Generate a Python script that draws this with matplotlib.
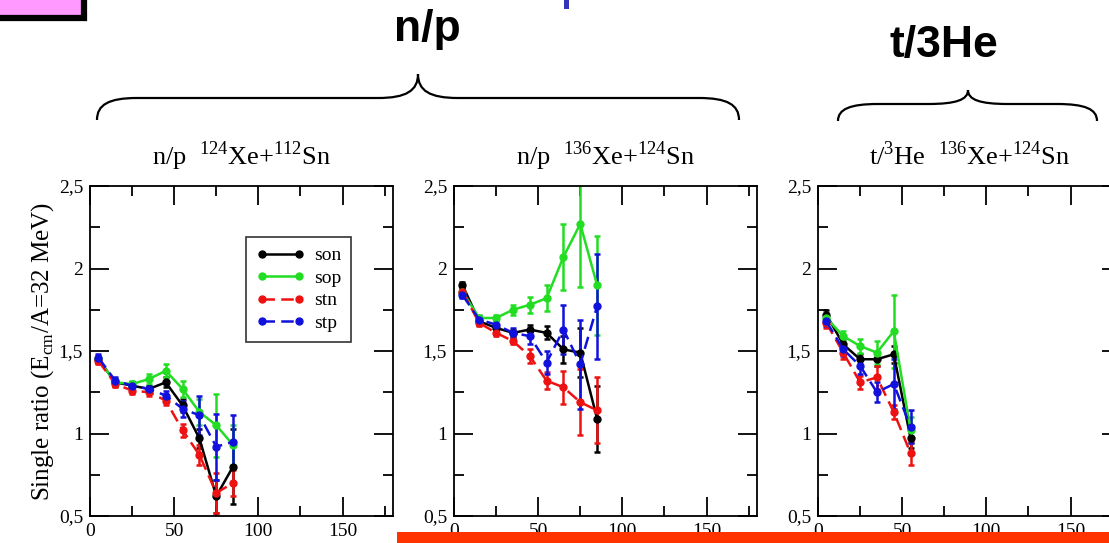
import matplotlib.pyplot as plt
from matplotlib.patches import Rectangle, PathPatch
from matplotlib.path import Path
from matplotlib.ticker import MultipleLocator

plt.rcParams['font.family'] = ['Liberation Serif', 'DejaVu Serif']
plt.rcParams['mathtext.fontset'] = 'custom'
plt.rcParams['mathtext.rm'] = 'Liberation Serif'

# beam energy bins (MeV/A)
energy = [5, 15, 25, 35, 45, 55, 65, 75, 85]
energy_t = [5, 15, 25, 35, 45, 55]
series = ['son', 'sop', 'stn', 'stp']

# n/p 124Xe+112Sn
np124_son = [1.45, 1.31, 1.29, 1.27, 1.31, 1.17, 0.97, 0.62, 0.80]
np124_son_err = [0.02, 0.02, 0.02, 0.02, 0.03, 0.04, 0.06, 0.10, 0.23]
np124_sop = [1.45, 1.31, 1.30, 1.33, 1.38, 1.27, 1.13, 1.05, 0.93]
np124_sop_err = [0.02, 0.02, 0.02, 0.03, 0.04, 0.05, 0.08, 0.19, 0.12]
np124_stn = [1.44, 1.30, 1.26, 1.25, 1.20, 1.02, 0.87, 0.64, 0.70]
np124_stn_err = [0.02, 0.02, 0.02, 0.02, 0.03, 0.04, 0.06, 0.12, 0.08]
np124_stp = [1.46, 1.32, 1.29, 1.27, 1.23, 1.15, 1.11, 0.92, 0.95]
np124_stp_err = [0.02, 0.02, 0.02, 0.02, 0.03, 0.05, 0.12, 0.20, 0.16]

# n/p 136Xe+124Sn
np136_son = [1.90, 1.68, 1.64, 1.61, 1.63, 1.61, 1.51, 1.49, 1.09]
np136_son_err = [0.02, 0.02, 0.02, 0.02, 0.03, 0.04, 0.08, 0.15, 0.20]
np136_sop = [1.86, 1.70, 1.70, 1.75, 1.78, 1.82, 2.07, 2.27, 1.90]
np136_sop_err = [0.02, 0.02, 0.02, 0.03, 0.05, 0.08, 0.20, 0.38, 0.30]
np136_stn = [1.86, 1.67, 1.61, 1.56, 1.47, 1.32, 1.28, 1.19, 1.14]
np136_stn_err = [0.02, 0.02, 0.02, 0.02, 0.04, 0.05, 0.10, 0.20, 0.20]
np136_stp = [1.84, 1.69, 1.66, 1.61, 1.59, 1.43, 1.63, 1.42, 1.77]
np136_stp_err = [0.02, 0.02, 0.03, 0.03, 0.05, 0.07, 0.15, 0.27, 0.32]

# t/3He 136Xe+124Sn
th136_son = [1.72, 1.54, 1.45, 1.45, 1.48, 0.97]
th136_son_err = [0.03, 0.03, 0.03, 0.04, 0.05, 0.06]
th136_sop = [1.70, 1.59, 1.53, 1.49, 1.62, 1.02]
th136_sop_err = [0.03, 0.03, 0.04, 0.07, 0.22, 0.08]
th136_stn = [1.67, 1.49, 1.31, 1.34, 1.13, 0.88]
th136_stn_err = [0.03, 0.04, 0.04, 0.07, 0.04, 0.07]
th136_stp = [1.68, 1.51, 1.41, 1.25, 1.30, 1.04]
th136_stp_err = [0.03, 0.04, 0.05, 0.06, 0.15, 0.10]

x_ticks = [0, 50, 100, 150]
x_labels = ['0', '50', '100', '150']
y_ticks = [0.5, 1.0, 1.5, 2.0, 2.5]
y_labels = ['0,5', '1', '1,5', '2', '2,5']

titles = [r'n/p  $^\mathregular{124}$Xe+$^\mathregular{112}$Sn',
          r'n/p  $^\mathregular{136}$Xe+$^\mathregular{124}$Sn',
          r't/$^\mathregular{3}$He  $^\mathregular{136}$Xe+$^\mathregular{124}$Sn']

colors = {'son': 'black', 'sop': '#22dd22', 'stn': '#ee1111', 'stp': '#1111dd'}
dashes = {'son': '-', 'sop': '-', 'stn': (0, (5, 2.5)), 'stp': (0, (5, 2.5))}

panels = [
    (energy, [np124_son, np124_sop, np124_stn, np124_stp],
     [np124_son_err, np124_sop_err, np124_stn_err, np124_stp_err]),
    (energy, [np136_son, np136_sop, np136_stn, np136_stp],
     [np136_son_err, np136_sop_err, np136_stn_err, np136_stp_err]),
    (energy_t, [th136_son, th136_sop, th136_stn, th136_stp],
     [th136_son_err, th136_sop_err, th136_stn_err, th136_stp_err]),
]

W, H = 1109, 543
fig = plt.figure(figsize=(W / 100, H / 100), dpi=100)

lefts = [90, 454, 818]
aw, top, bottom = 303, 186, 516

for i, (x, ys, errs) in enumerate(panels):
    ax = fig.add_axes([lefts[i] / W, 1 - bottom / H, aw / W, (bottom - top) / H])
    handles = []
    for name, y, e in zip(series, ys, errs):
        cont = ax.errorbar(x, y, yerr=e, color=colors[name], ls=dashes[name], lw=1.8,
                           marker='o', ms=5, elinewidth=1.8, capsize=2.5, capthick=1.8,
                           label=name)
        handles.append(cont.lines[0])
    ax.set_xlim(0, 180)
    ax.set_ylim(0.5, 2.5)
    ax.set_xticks(x_ticks)
    ax.set_xticklabels(x_labels)
    ax.set_yticks(y_ticks)
    ax.set_yticklabels(y_labels)
    ax.xaxis.set_minor_locator(MultipleLocator(25))
    ax.yaxis.set_minor_locator(MultipleLocator(0.25))
    ax.tick_params(which='both', direction='in', top=True, right=True,
                   width=1.3, labelsize=14)
    ax.tick_params(which='major', length=14)
    ax.tick_params(which='minor', length=7.5)
    ax.tick_params(axis='x', pad=5)
    ax.tick_params(axis='y', pad=5)
    for s in ax.spines.values():
        s.set_linewidth(1.3)
    ax.set_title(titles[i], fontsize=19, pad=15)
    if i == 0:
        ax.set_ylabel(r'Single ratio (E$_\mathregular{cm}$/A=32 MeV)', fontsize=18, labelpad=2)
        leg = ax.legend(handles, series, loc='upper left', bbox_to_anchor=(0.515, 0.845),
                        numpoints=2, fontsize=14, handlelength=2.5, frameon=True,
                        fancybox=False, edgecolor='black', borderpad=0.5,
                        labelspacing=0.25, handletextpad=0.5, borderaxespad=0)
        leg.get_frame().set_linewidth(1.2)

# overlay in pixel coordinates for the slide decorations
ov = fig.add_axes([0, 0, 1, 1], zorder=5)
ov.set_xlim(0, W)
ov.set_ylim(H, 0)
ov.axis('off')
ov.patch.set_alpha(0)


def brace(x0, x1, xt, yend, yh, ytip, r=40):
    verts = [(x0, yend),
             (x0, yh + 0.3 * (yend - yh)), (x0 + 0.3 * r, yh), (x0 + r, yh),
             (xt - r, yh),
             (xt - 0.3 * r, yh), (xt, yh - 0.3 * (yh - ytip)), (xt, ytip),
             (xt, yh - 0.3 * (yh - ytip)), (xt + 0.3 * r, yh), (xt + r, yh),
             (x1 - r, yh),
             (x1 - 0.3 * r, yh), (x1, yh + 0.3 * (yend - yh)), (x1, yend)]
    codes = [Path.MOVETO, Path.CURVE4, Path.CURVE4, Path.CURVE4, Path.LINETO,
             Path.CURVE4, Path.CURVE4, Path.CURVE4, Path.CURVE4, Path.CURVE4,
             Path.CURVE4, Path.LINETO, Path.CURVE4, Path.CURVE4, Path.CURVE4]
    ov.add_patch(PathPatch(Path(verts, codes), fill=False, lw=1.6, color='black'))


brace(97, 739, 418, 120, 98, 74)
brace(838, 1097, 968, 121, 104, 90)

ov.text(427, 29, 'n/p', family='Liberation Sans', weight='bold', fontsize=32,
        ha='center', va='center')
ov.text(944, 46, 't/3He', family='Liberation Sans', weight='bold', fontsize=32,
        ha='center', va='center')

# pink box and the blue stroke cut by the top edge
ov.add_patch(Rectangle((-20, -20), 104, 38, facecolor='#ff99ff', edgecolor='black',
                       lw=4.5, clip_on=False))
ov.add_patch(Rectangle((564, -2), 5, 11, facecolor='#3333bb', edgecolor='none'))

# red underline bar
ov.add_patch(Rectangle((397, 532), W - 397 + 5, 15, facecolor='#ff3300', edgecolor='none'))

fig.savefig('out.png', dpi=100)
